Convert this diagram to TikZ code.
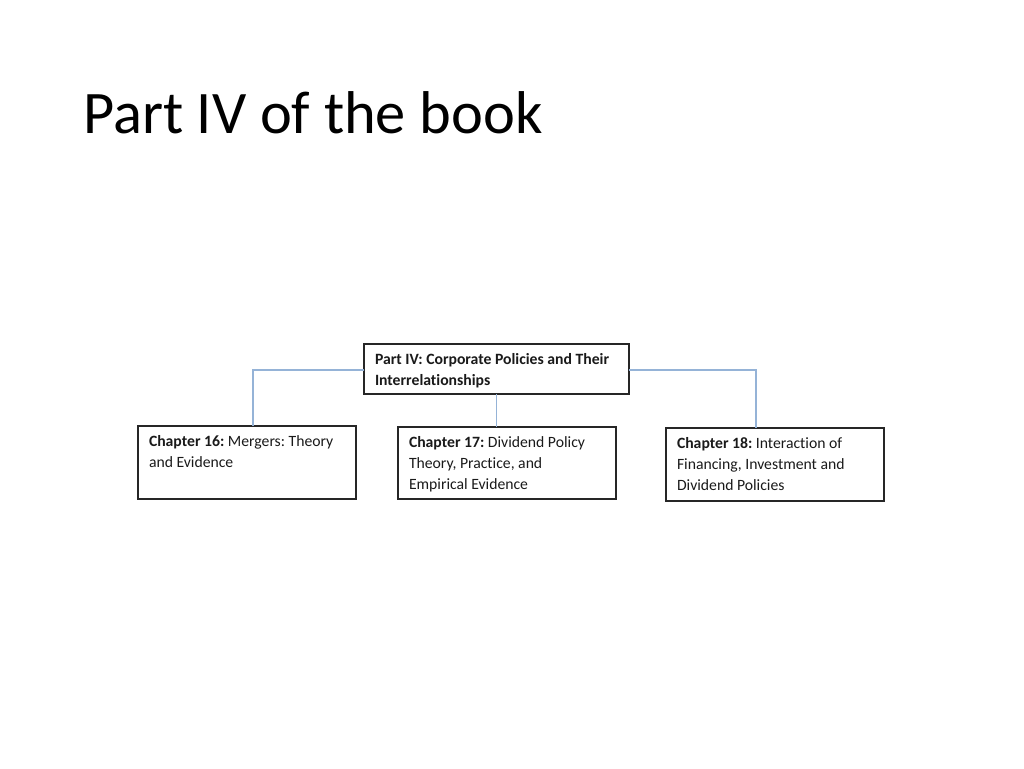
\documentclass[tikz,border=0pt]{standalone}
\usepackage{fontspec}
\setmainfont[RawFeature=-liga]{Carlito}
\definecolor{boxline}{HTML}{262626}
\definecolor{connblue}{HTML}{95B3D7}
\definecolor{txt}{HTML}{1A1A1A}
\newcommand\bxtext[3]{\parbox[c][#2pt][t]{#1pt}{\frenchspacing\fontsize{15.7}{21}\selectfont\vspace*{5.5pt}\strut #3}}
\begin{document}
\begin{tikzpicture}[x=1pt,y=-1pt,
  chbox/.style={draw=boxline, line width=1.1pt, rectangle, anchor=north west,
    inner xsep=11pt, inner ysep=0pt, outer sep=0pt, text=txt, fill=white},
  conn/.style={draw=connblue, line width=1.4pt},
  title/.style={anchor=base west, inner sep=0pt, font=\fontsize{60.4}{70}\selectfont, text=black}]
\useasboundingbox (0,0) rectangle (1024,768);
\node[title] (ttl) at (83,133) {Part IV of the book};
\node[chbox] (top) at (364,344) {\bxtext{243}{50}{\textbf{Part IV: Corporate Policies and Their}\\\textbf{Interrelationships}}};
\node[chbox] (c16) at (138,426) {\bxtext{196}{73}{\textbf{Chapter 16:} Mergers: Theory\\and Evidence}};
\node[chbox] (c17) at (398,427) {\bxtext{196}{72}{\textbf{Chapter 17:} Dividend Policy\\Theory, Practice, and\\Empirical Evidence}};
\node[chbox] (c18) at (666,428) {\bxtext{196}{73}{\textbf{Chapter 18:} Interaction of\\Financing, Investment and\\Dividend Policies}};
\coordinate (k16) at ([xshift=6pt]c16.north);
\coordinate (k18) at ([xshift=-19pt]c18.north);
\draw[conn] ([yshift=-1pt]top.west) -| (k16);
\draw[conn] ([yshift=-1pt]top.east) -| (k18);
\draw[conn] (top.south) -- (top.south |- c17.north);
\end{tikzpicture}
\end{document}
